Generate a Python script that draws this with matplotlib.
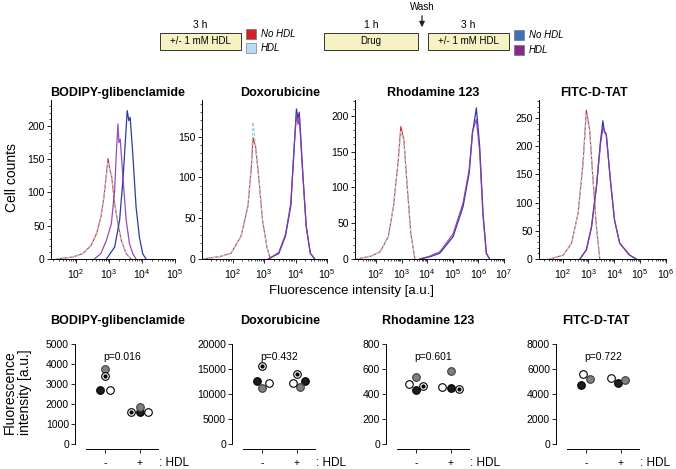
import numpy as np
import matplotlib as mpl
mpl.use('Agg')
import matplotlib.pyplot as plt
from matplotlib.patches import Rectangle
from matplotlib.ticker import MultipleLocator, LogLocator, NullFormatter

plt.rcParams['font.family'] = ['Liberation Sans', 'DejaVu Sans']
plt.rcParams['axes.linewidth'] = 0.7
plt.rcParams['mathtext.default'] = 'regular'

# ── colours ──────────────────────────────────────────────────────────────
RED = '#e3262b'
LIGHT_BLUE = '#9dd6e3'
BLUE = '#2a3aa8'
PURPLE = '#8c3aa6'
LEG_RED = '#d21f2a'
LEG_LBLUE = '#b8dcf2'
LEG_BLUE = '#3d72b8'
LEG_PURPLE = '#86298f'
BOX_FILL = '#f6f2c4'

# ── histogram data (log10 intensity, cell counts) ───────────────────────
HIST_TITLES = ['BODIPY-glibenclamide', 'Doxorubicine', 'Rhodamine 123', 'FITC-D-TAT']

BODIPY_CTRL_LOGX = [1.42, 1.9, 2.2, 2.45, 2.62, 2.75, 2.85, 2.92, 2.97, 3.02, 3.08, 3.17, 3.27, 3.37, 3.52, 3.67]
BODIPY_CTRL_RED = [0, 3, 8, 20, 38, 62, 95, 128, 151, 136, 124, 83, 53, 28, 8, 0]
BODIPY_CTRL_LBLUE = [0, 3, 8, 21, 40, 64, 97, 125, 146, 134, 126, 85, 52, 27, 8, 0]
BODIPY_PURPLE_LOGX = [2.55, 2.75, 2.92, 3.07, 3.17, 3.22, 3.27, 3.30, 3.34, 3.42, 3.52, 3.62, 3.72, 3.82]
BODIPY_PURPLE = [0, 8, 28, 53, 103, 158, 203, 175, 180, 123, 58, 23, 8, 0]
BODIPY_BLUE_LOGX = [2.92, 3.17, 3.32, 3.42, 3.50, 3.55, 3.60, 3.64, 3.72, 3.82, 3.92, 4.02, 4.12]
BODIPY_BLUE = [0, 18, 58, 118, 181, 223, 208, 213, 158, 78, 33, 8, 0]

DOXO_CTRL_LOGX = [1.05, 1.6, 1.95, 2.27, 2.49, 2.6, 2.65, 2.73, 2.84, 2.95, 3.09, 3.2]
DOXO_CTRL_RED = [0, 3, 7, 28, 65, 114, 149, 138, 97, 48, 15, 0]
DOXO_CTRL_LBLUE = [0, 3, 7, 28, 66, 120, 168, 140, 98, 48, 15, 0]
DOXO_DRUG_LOGX = [3.14, 3.47, 3.68, 3.85, 3.96, 4.03, 4.08, 4.12, 4.23, 4.34, 4.47, 4.61]
DOXO_BLUE = [0, 7, 28, 65, 138, 184, 172, 180, 106, 40, 7, 0]
DOXO_PURPLE = [0, 8, 30, 68, 140, 178, 165, 175, 104, 40, 7, 0]

RHOD_CTRL_LOGX = [1.25, 1.8, 2.16, 2.48, 2.68, 2.87, 2.97, 3.09, 3.22, 3.36, 3.52]
RHOD_CTRL_RED = [0, 4, 10, 31, 73, 138, 185, 166, 101, 36, 0]
RHOD_CTRL_LBLUE = [0, 4, 10, 31, 74, 136, 178, 164, 100, 36, 0]
RHOD_DRUG_LOGX = [3.71, 4.1, 4.49, 5.01, 5.4, 5.64, 5.77, 5.92, 6.05, 6.18, 6.31, 6.44]
RHOD_BLUE = [0, 3, 8, 31, 73, 120, 176, 211, 157, 64, 8, 0]
RHOD_PURPLE = [0, 4, 10, 35, 78, 125, 178, 195, 150, 60, 8, 0]

FITC_CTRL_LOGX = [1.51, 2.03, 2.35, 2.6, 2.79, 2.92, 3.05, 3.18, 3.31, 3.44]
FITC_CTRL_RED = [0, 7, 28, 81, 169, 264, 228, 140, 57, 0]
FITC_CTRL_LBLUE = [0, 7, 28, 80, 166, 258, 226, 140, 57, 0]
FITC_DRUG_LOGX = [2.67, 2.92, 3.12, 3.31, 3.47, 3.56, 3.62, 3.69, 3.85, 4.01, 4.21, 4.59, 4.85]
FITC_BLUE = [0, 16, 57, 128, 210, 245, 225, 222, 140, 69, 28, 7, 0]
FITC_PURPLE = [0, 16, 57, 128, 205, 232, 228, 220, 140, 69, 28, 7, 0]

HIST_XMAX_DECADE = [5, 5, 7, 6]
HIST_YMAJOR = [[0, 50, 100, 150, 200], [0, 50, 100, 150],
               [0, 50, 100, 150, 200], [0, 50, 100, 150, 200, 250]]

# ── dot-plot data (order: black, grey, white, dotted donors) ─────────────
DOT_TITLES = HIST_TITLES
DOT_PVALUES = ['p=0.016', 'p=0.432', 'p=0.601', 'p=0.722']
DOT_XLABELS = ['-', '+']
DOT_YTICKS = [[0, 1000, 2000, 3000, 4000, 5000], [0, 5000, 10000, 15000, 20000],
              [0, 200, 400, 600, 800], [0, 2000, 4000, 6000, 8000]]
BODIPY_NO_HDL = [2700, 3750, 2700, 3420]
BODIPY_HDL = [1620, 1830, 1620, 1620]
DOXO_NO_HDL = [12600, 11270, 12130, 15670]
DOXO_HDL = [12600, 11330, 12130, 14000]
RHOD_NO_HDL = [430, 540, 477, 464]
RHOD_HDL = [445, 584, 453, 440]
FITC_NO_HDL = [4720, 5170, 5600, np.nan]
FITC_HDL = [4850, 5120, 5250, np.nan]

# horizontal jitter of each donor (pixels), layout only
JITTER_PX = [
    ([-5.5, 0, 5, 0], [0, 0, 8, -9]),
    ([-5, 0, 7, 0], [8, 3, -4, 0]),
    ([0, 0, -7, 7], [0, 0, -9, 8]),
    ([-5, 4, -3, 0], [-3, 4, -10, 0]),
]

W, H = 676, 469
fig = plt.figure(figsize=(W / 100, H / 100), dpi=100)


def px_axes(left, top, right, bottom):
    return fig.add_axes([left / W, 1 - bottom / H, (right - left) / W, (bottom - top) / H])


def fx(x):
    return x / W


def fy(y):
    return 1 - y / H


# ── schematic header ─────────────────────────────────────────────────────
def box(x0, x1, label, dur):
    fig.patches.append(Rectangle((fx(x0), fy(50)), fx(x1) - fx(x0), fy(33) - fy(50),
                                 transform=fig.transFigure, facecolor=BOX_FILL,
                                 edgecolor='#333333', linewidth=0.7))
    fig.text(fx((x0 + x1) / 2), fy(41.5), label, ha='center', va='center', fontsize=7)
    fig.text(fx((x0 + x1) / 2), fy(25), dur, ha='center', va='center', fontsize=7.5)


def legend_sq(x, y, color, label):
    fig.patches.append(Rectangle((fx(x), fy(y + 10)), fx(10), fy(0) - fy(10),
                                 transform=fig.transFigure, facecolor=color,
                                 edgecolor='#666666', linewidth=0.4))
    fig.text(fx(x + 15), fy(y + 5), label, ha='left', va='center', fontsize=7, style='italic')


box(160, 241, '+/- 1 mM HDL', '3 h')
legend_sq(246, 29, LEG_RED, 'No HDL')
legend_sq(246, 43, LEG_LBLUE, 'HDL')
box(324, 418, 'Drug', '1 h')
box(428, 509, '+/- 1 mM HDL', '3 h')
legend_sq(514, 30, LEG_BLUE, 'No HDL')
legend_sq(514, 45, LEG_PURPLE, 'HDL')
fig.text(fx(422), fy(7), 'Wash', ha='center', va='center', fontsize=7)
fig.add_artist(mpl.patches.FancyArrowPatch((fx(422), fy(13)), (fx(422), fy(30)),
                                           transform=fig.transFigure, arrowstyle='-|>',
                                           mutation_scale=8, color='#222222', lw=0.9))

# ── histograms ───────────────────────────────────────────────────────────
hist_sets = [
    (BODIPY_CTRL_LOGX, BODIPY_CTRL_RED, BODIPY_CTRL_LBLUE, BODIPY_PURPLE_LOGX, BODIPY_PURPLE, BODIPY_BLUE_LOGX, BODIPY_BLUE),
    (DOXO_CTRL_LOGX, DOXO_CTRL_RED, DOXO_CTRL_LBLUE, DOXO_DRUG_LOGX, DOXO_PURPLE, DOXO_DRUG_LOGX, DOXO_BLUE),
    (RHOD_CTRL_LOGX, RHOD_CTRL_RED, RHOD_CTRL_LBLUE, RHOD_DRUG_LOGX, RHOD_PURPLE, RHOD_DRUG_LOGX, RHOD_BLUE),
    (FITC_CTRL_LOGX, FITC_CTRL_RED, FITC_CTRL_LBLUE, FITC_DRUG_LOGX, FITC_PURPLE, FITC_DRUG_LOGX, FITC_BLUE),
]
hist_box = [(51, 175), (202, 327), (355, 504), (539, 666)]
hist_xlo = [1.24, 1.03, 1.18, 1.09]
hist_ytop = [239, 195, 222, 282]
title_cx = [118, 280, 433, 594]

for i, (cx, cr, cb, px_, pp, bx, bb) in enumerate(hist_sets):
    ax = px_axes(hist_box[i][0], 100, hist_box[i][1], 259)
    ax.plot(10 ** np.array(cx), cr, color=RED, lw=0.8)
    ax.plot(10 ** np.array(cx), cb, color=LIGHT_BLUE, lw=0.9, dashes=(2.5, 1.5))
    ax.plot(10 ** np.array(bx), bb, color=BLUE, lw=0.9)
    ax.plot(10 ** np.array(px_), pp, color=PURPLE, lw=0.9, alpha=0.9)
    ax.set_xscale('log')
    ax.set_xlim(10 ** hist_xlo[i], 10 ** HIST_XMAX_DECADE[i])
    ax.set_ylim(0, hist_ytop[i])
    ax.set_xticks([10.0 ** d for d in range(2, HIST_XMAX_DECADE[i] + 1)])
    ax.xaxis.set_minor_locator(LogLocator(base=10, subs=np.arange(2, 10), numticks=20))
    ax.xaxis.set_minor_formatter(NullFormatter())
    ax.set_yticks(HIST_YMAJOR[i])
    ax.yaxis.set_minor_locator(MultipleLocator(10))
    for s in ('top', 'right'):
        ax.spines[s].set_visible(False)
    ax.tick_params(which='major', direction='out', length=3, width=0.6, labelsize=7.5, pad=1.5)
    ax.tick_params(which='minor', direction='out', length=1.5, width=0.5)
    ax.tick_params(axis='x', pad=3)
    fig.text(fx(title_cx[i]), fy(93), HIST_TITLES[i], ha='center', va='center',
             fontsize=9, fontweight='bold')

fig.text(fx(12), fy(178), 'Cell counts', rotation=90, ha='center', va='center', fontsize=10)
fig.text(fx(351), fy(291), 'Fluorescence intensity [a.u.]', ha='center', va='center', fontsize=9.5)

# ── dot plots ────────────────────────────────────────────────────────────
dot_sets = [(BODIPY_NO_HDL, BODIPY_HDL), (DOXO_NO_HDL, DOXO_HDL),
            (RHOD_NO_HDL, RHOD_HDL), (FITC_NO_HDL, FITC_HDL)]
tick0_px = [105, 262, 416, 586]
UNIT = 35.0
XLO, XHI = -0.85, 1.5
donor_face = ['#1c1c1c', '#808080', 'white', 'white']
donor_edge = ['#000000', '#3c3c3c', '#000000', '#000000']
dot_title_cx = [118, 280, 428, 596]

for i, (minus, plus) in enumerate(dot_sets):
    left = tick0_px[i] + XLO * UNIT
    right = tick0_px[i] + XHI * UNIT
    ax = px_axes(left, 344, right, 448.5)
    ymax = DOT_YTICKS[i][-1]
    ax.set_ylim(-0.045 * ymax, ymax)
    ax.set_xlim(XLO, XHI)
    for g, vals in enumerate((minus, plus)):
        for d, v in enumerate(vals):
            if np.isnan(v):
                continue
            xx = g + JITTER_PX[i][g][d] / UNIT
            ax.scatter([xx], [v], s=30, facecolor=donor_face[d], edgecolor=donor_edge[d],
                       linewidths=0.8, zorder=3 + d)
            if d == 3:
                ax.scatter([xx], [v], s=4, color='black', zorder=8)
    ax.set_xticks([0, 1])
    ax.set_xticklabels(DOT_XLABELS, fontsize=9)
    ax.set_yticks(DOT_YTICKS[i])
    ax.spines['left'].set_bounds(0, ymax)
    ax.spines['bottom'].set_bounds(-0.55, XHI)
    for s in ('top', 'right'):
        ax.spines[s].set_visible(False)
    ax.tick_params(direction='out', length=3, width=0.6, labelsize=7.5, pad=1.5)
    ax.tick_params(axis='x', pad=4)
    ax.text(0.5, 0.875, DOT_PVALUES[i], transform=ax.get_xaxis_transform(),
            ha='center', va='center', fontsize=7.5)
    ax.text(XHI + 0.05, -0.14, ': HDL', transform=ax.get_xaxis_transform(),
            ha='left', va='center', fontsize=8.5)
    fig.text(fx(dot_title_cx[i]), fy(321), DOT_TITLES[i], ha='center', va='center',
             fontsize=9, fontweight='bold')

fig.text(fx(10), fy(392), 'Fluorescence', rotation=90, ha='center', va='center', fontsize=10)
fig.text(fx(25), fy(392), 'intensity [a.u.]', rotation=90, ha='center', va='center', fontsize=10)

fig.savefig('out.png', dpi=100)
